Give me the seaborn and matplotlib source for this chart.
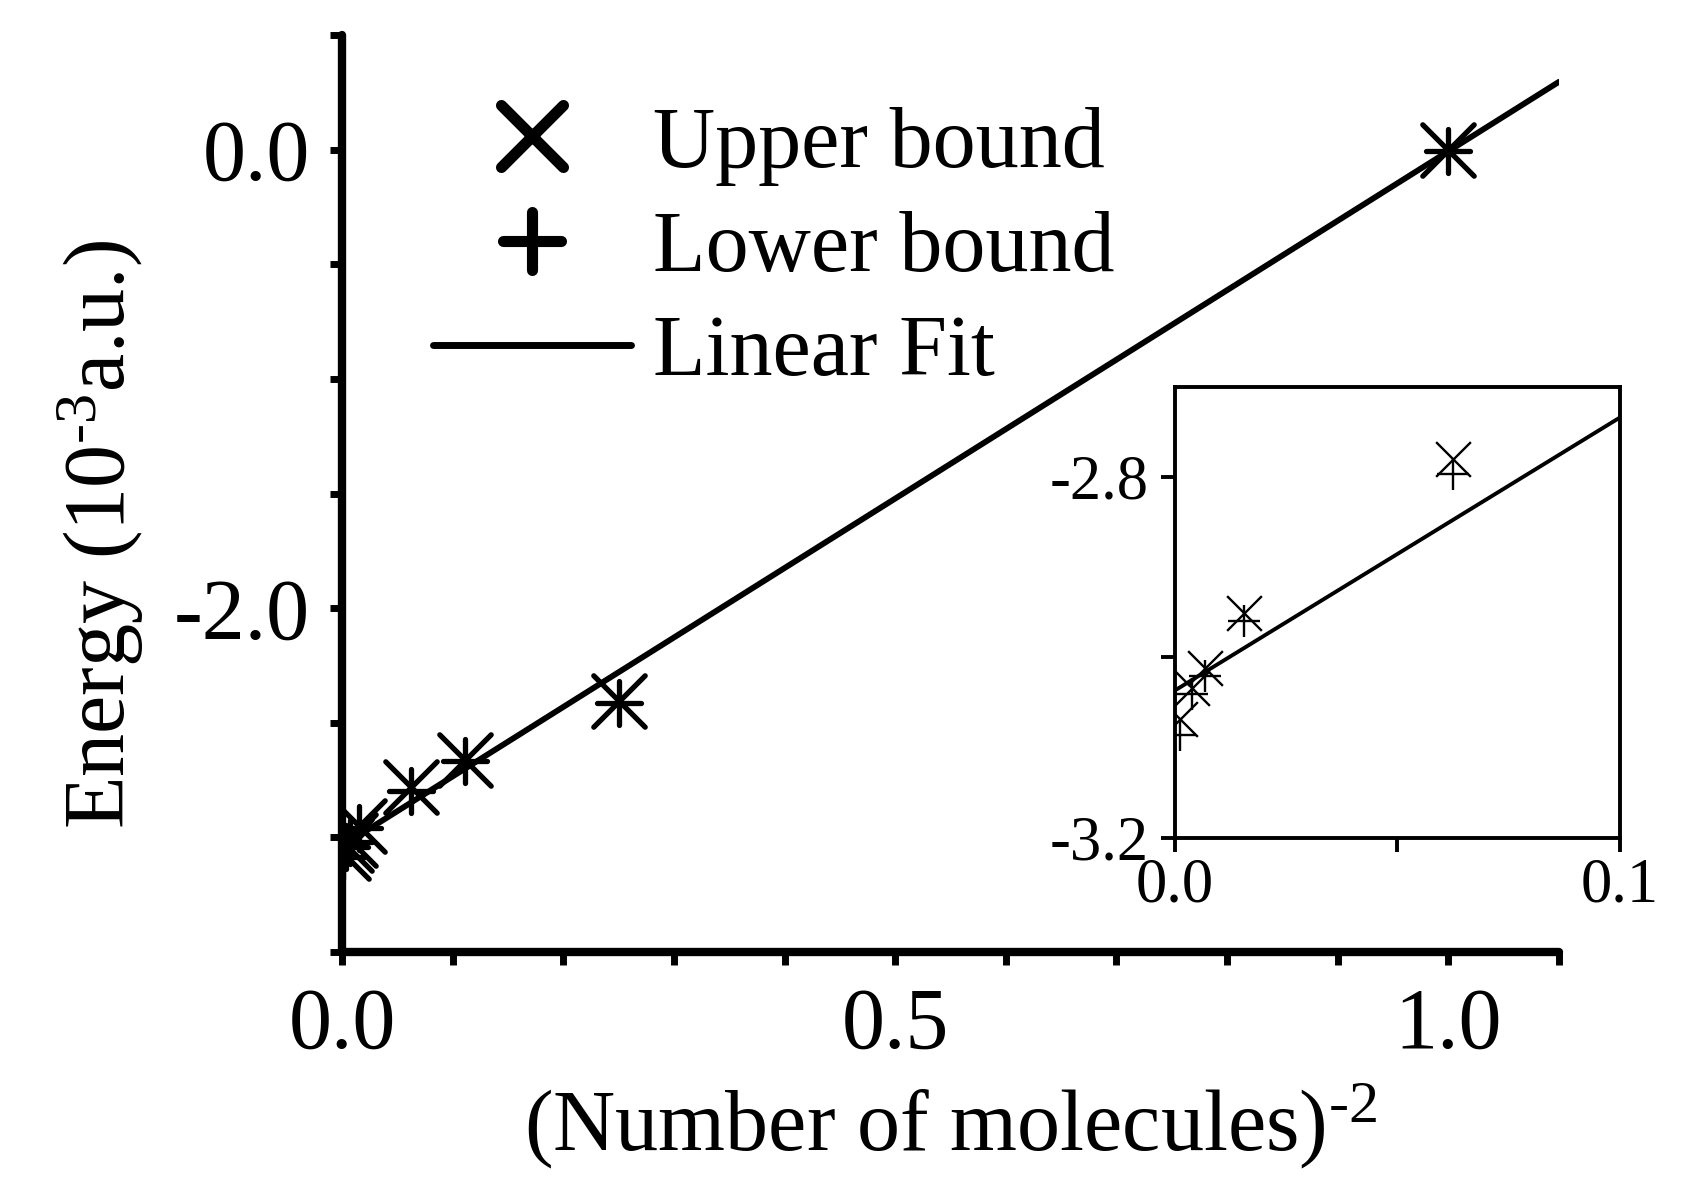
import numpy as np
import matplotlib
matplotlib.use("Agg")
import matplotlib.pyplot as plt
import seaborn as sns
from matplotlib.lines import Line2D
from matplotlib.markers import MarkerStyle

# (Number of molecules)^-2 and the energy bounds, in 10^-3 a.u.
inv_n2 = [1.0, 0.25, 0.1111, 0.0625, 0.0156, 0.0069, 0.0039, 0.0011]
upper_bound = [0.0, -2.405, -2.662, -2.780, -2.951, -3.012, -3.034, -3.068]
lower_bound = [-0.004, -2.412, -2.668, -2.797, -2.960, -3.021, -3.041, -3.086]

# end points of the linear fit
fit_x = [0.0, 1.1]
fit_y = [-3.037, 0.296]

main_yticks = [0.5, 0.0, -0.5, -1.0, -1.5, -2.0, -2.5, -3.0, -3.5]
main_ylabels = ["", "0.0", "", "", "", "-2.0", "", "", ""]
main_xticks = [0.0, 0.1, 0.2, 0.3, 0.4, 0.5, 0.6, 0.7, 0.8, 0.9, 1.0, 1.1]
main_xlabels = ["0.0", "", "", "", "", "0.5", "", "", "", "", "1.0", ""]

inset_yticks = [-3.2, -3.0, -2.8]
inset_ylabels = ["-3.2", "", "-2.8"]
inset_xticks = [0.0, 0.05, 0.1]
inset_xlabels = ["0.0", "", "0.1"]

sns.set_theme(style="ticks")
plt.rcParams["font.family"] = ["Liberation Serif", "DejaVu Serif"]
plt.rcParams["mathtext.fontset"] = "custom"
plt.rcParams["mathtext.rm"] = "Liberation Serif"
plt.rcParams["mathtext.default"] = "regular"
plt.rcParams["text.color"] = "black"
plt.rcParams["axes.labelcolor"] = "black"

HY = "\u2010"  # plain hyphen for the exponents, as in the original

fig = plt.figure(figsize=(16.99, 11.79), dpi=100)
ax = fig.add_axes([0.2013, 0.1925, 0.7163, 0.7778])

sns.lineplot(x=fit_x, y=fit_y, color="black", linewidth=4.2, ax=ax)
sns.scatterplot(x=inv_n2, y=upper_bound, marker="x", s=37 ** 2,
                color="black", linewidth=3.8, ax=ax, zorder=3)
sns.scatterplot(x=inv_n2, y=lower_bound, marker="+", s=32 ** 2,
                color="black", linewidth=3.8, ax=ax, zorder=3)
for coll in ax.collections:
    coll.set_capstyle("round")

ax.set_xlim(0, 1.1)
ax.set_ylim(-3.5, 0.5)
ax.set_xticks(main_xticks)
ax.set_xticklabels(main_xlabels)
ax.set_yticks(main_yticks)
ax.set_yticklabels(main_ylabels)
ax.tick_params(axis="both", direction="out", length=9, width=5,
               labelsize=62, color="black", labelcolor="black")
ax.tick_params(axis="x", pad=16)
ax.tick_params(axis="y", pad=14)
for side in ["top", "right"]:
    ax.spines[side].set_visible(False)
for side in ["left", "bottom"]:
    ax.spines[side].set_linewidth(6)
    ax.spines[side].set_color("black")
    ax.spines[side].set_capstyle("round")

ax.set_xlabel("(Number of molecules)$^{" + HY + "2}$", fontsize=62)
ax.set_ylabel("Energy (10$^{" + HY + "3}$a.u.)", fontsize=62)
ax.xaxis.set_label_coords(0.5, -0.14)
ax.yaxis.set_label_coords(-0.161, 0.455)

handles = [
    Line2D([], [], color="black", marker=MarkerStyle("x", capstyle="round"),
           linestyle="", markersize=44, markeredgewidth=8),
    Line2D([], [], color="black", marker=MarkerStyle("+", capstyle="round"),
           linestyle="", markersize=42, markeredgewidth=8),
    Line2D([], [], color="black", linewidth=5, solid_capstyle="round"),
]
ax.legend(handles, ["Upper bound", "Lower bound", "Linear Fit"],
          loc="upper left", bbox_to_anchor=(433 / 1699, 1 - 106 / 1179),
          bbox_transform=fig.transFigure, frameon=False, fontsize=62,
          borderpad=0, borderaxespad=0, handlelength=2.3,
          handletextpad=0.25, labelspacing=0.29)

# inset: zoom on the small 1/N^2 region
inset = fig.add_axes([0.6914, 0.2896, 0.2622, 0.3824])
sns.lineplot(x=fit_x, y=fit_y, color="black", linewidth=2.8, ax=inset)
sns.scatterplot(x=inv_n2, y=upper_bound, marker="x", s=25 ** 2,
                color="black", linewidth=1.7, ax=inset, zorder=3)
sns.scatterplot(x=inv_n2, y=lower_bound, marker="+", s=23 ** 2,
                color="black", linewidth=1.7, ax=inset, zorder=3)
inset.set_xlim(0, 0.1)
inset.set_ylim(-3.2, -2.7)
inset.set_xticks(inset_xticks)
inset.set_xticklabels(inset_xlabels)
inset.set_yticks(inset_yticks)
inset.set_yticklabels(inset_ylabels)
inset.tick_params(axis="both", direction="out", length=10, width=2.8,
                  labelsize=45, color="black", labelcolor="black")
inset.tick_params(axis="x", pad=4)
inset.tick_params(axis="y", pad=9)
for side in inset.spines:
    inset.spines[side].set_linewidth(2.8)
    inset.spines[side].set_color("black")
inset.set_xlabel("")
inset.set_ylabel("")
inset.set_facecolor("white")

fig.savefig("out.png", dpi=100, facecolor="white")
